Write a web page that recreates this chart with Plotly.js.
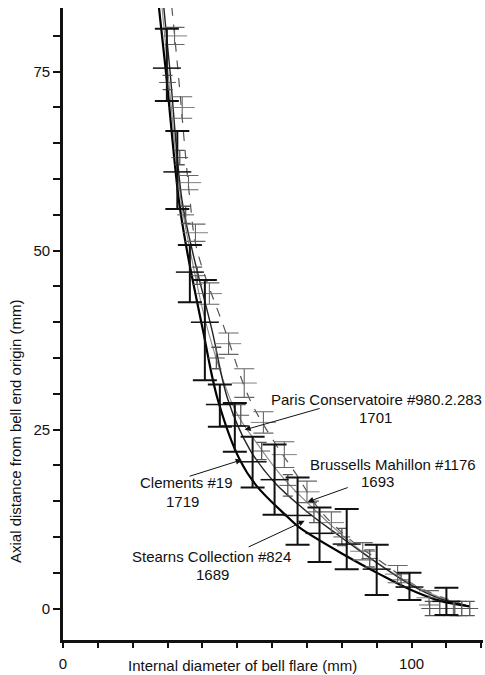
<!DOCTYPE html>
<html>
<head>
<meta charset="utf-8">
<script src="https://cdn.plot.ly/plotly-3.0.1.min.js"></script>
<style>html,body{margin:0;padding:0;background:#fff;}#chart{width:485px;height:675px;}</style>
</head>
<body>
<div id="chart"></div>
<script>
// ---- Fitted curves (diameter x, axial distance y) ----
const stearnsCurveX = [27.5, 29.5, 33.2, 35.5, 40.1, 44.4, 50.7, 55.6, 64.2, 67.9, 81.4, 90.8, 99.4, 108.0, 116.6];
const stearnsCurveY = [84.1, 75.1, 57.2, 50.2, 39.0, 29.2, 20.8, 17.1, 12.9, 11.3, 7.3, 4.8, 2.7, 1.1, 0.3];
const clementsCurveX = [28.9, 30.7, 34.1, 37.0, 42.7, 47.3, 53.6, 60.7, 69.3, 79.4, 89.4, 99.4, 108.0, 116.6];
const clementsCurveY = [84.1, 75.1, 57.2, 50.2, 39.0, 29.2, 22.2, 17.6, 13.8, 10.1, 6.6, 3.4, 1.4, 0.3];
const parisCurveX = [31.2, 33.0, 36.4, 38.4, 46.4, 53.6, 60.7, 67.0, 73.6, 82.2, 92.3, 102.3, 116.6];
const parisCurveY = [84.1, 75.1, 57.2, 50.2, 39.0, 29.2, 23.2, 18.7, 13.8, 9.7, 6.2, 2.9, 0.3];
const brussCurveX = [28.4, 30.1, 33.8, 36.4, 41.5, 49.3, 55.9, 63.6, 72.2, 81.4, 90.8, 100.9, 109.5, 116.6];
const brussCurveY = [84.1, 75.1, 57.2, 50.2, 39.0, 27.8, 22.9, 18.0, 13.8, 9.7, 6.2, 3.2, 1.3, 0.3];

// ---- Measured points with error bars ----
const stearnsX = [29.8, 36.4, 45.0, 54.4, 67.3, 81.4, 99.4];
const stearnsY = [75.5, 47.0, 28.5, 20.5, 13.0, 9.0, 3.0];
const stearnsErrUp = [5.5, 3.8, 2.8, 3.5, 5.3, 4.9, 2.0];
const stearnsErrDown = [4.6, 4.2, 3.1, 3.6, 4.1, 3.5, 1.8];

const clementsX = [32.8, 40.7, 49.3, 60.7, 73.6, 90.0, 110.0];
const clementsY = [61.0, 40.0, 25.5, 18.0, 10.5, 5.5, 1.0];
const clementsErrUp = [5.7, 5.9, 3.2, 4.9, 3.6, 3.4, 1.9];
const clementsErrDown = [5.2, 8.1, 3.6, 4.9, 4.0, 3.6, 1.9];

const parisX = [32.0, 34.2, 36.0, 38.0, 42.0, 47.5, 52.0, 57.5, 63.5, 70.0, 77.0, 86.0, 96.0, 105.0, 112.0];
const parisY = [80.0, 70.0, 59.5, 52.5, 44.0, 37.0, 31.5, 26.0, 21.5, 16.3, 12.0, 8.0, 4.8, 1.5, 0.0];
const parisErr = [1.2, 1.5, 1.0, 1.2, 1.5, 1.5, 2.0, 1.5, 1.8, 1.5, 1.5, 1.2, 1.2, 1.0, 1.0];

const brussX = [30.0, 33.5, 35.2, 38.5, 44.0, 51.0, 57.0, 64.5, 72.0, 80.0, 88.0, 97.0, 105.2, 108.1, 112.4, 114.4, 116.7];
const brussY = [73.5, 63.0, 55.0, 46.5, 35.0, 27.0, 22.0, 17.2, 13.5, 10.0, 7.0, 4.0, 0.0, 0.0, 0.0, 0.0, 0.0];
const brussErr = [1.0, 1.0, 1.2, 1.2, 1.5, 1.5, 1.2, 1.5, 1.5, 1.2, 1.2, 1.0, 1.0, 1.0, 1.0, 1.0, 1.0];

const xTickVals = [0, 10, 20, 30, 40, 50, 60, 70, 80, 90, 100, 110, 120];
const xTickText = ['0', '', '', '', '', '', '', '', '', '', '100', '', ''];
const yTickVals = [0, 5, 10, 15, 20, 25, 30, 35, 40, 45, 50, 55, 60, 65, 70, 75, 80];
const yTickText = ['0', '', '', '', '', '25', '', '', '', '', '50', '', '', '', '', '75', ''];

const FONT = 'Liberation Sans, Arial, sans-serif';

function curve(x, y, color, width, dash) {
  return {x: x, y: y, type: 'scatter', mode: 'lines', hoverinfo: 'skip',
    line: {color: color, width: width, dash: dash || 'solid', shape: 'spline', smoothing: 1.0}};
}
function pts(x, y, up, down, color, thick, capw, msize) {
  return {x: x, y: y, type: 'scatter', mode: 'markers',
    marker: {symbol: 'line-ew-open', size: msize, color: color, line: {color: color, width: thick * 0.75}},
    error_y: {type: 'data', symmetric: false, array: up, arrayminus: down, color: color, thickness: thick, width: capw}};
}

const traces = [
  curve(parisCurveX, parisCurveY, '#555', 1.2, 'dash'),
  curve(brussCurveX, brussCurveY, '#8a8a8a', 1.1),
  curve(clementsCurveX, clementsCurveY, '#222', 1.4),
  curve(stearnsCurveX, stearnsCurveY, '#000', 2.2),
  pts(parisX, parisY, parisErr, parisErr, '#666', 1.1, 10, 18),
  pts(brussX, brussY, brussErr, brussErr, '#555', 1.3, 5, 12),
  pts(clementsX, clementsY, clementsErrUp, clementsErrDown, '#111', 2, 12, 20),
  pts(stearnsX, stearnsY, stearnsErrUp, stearnsErrDown, '#111', 2, 12, 20)
];

function label(text, px, py) {
  return {text: text, x: (px - 63.3) / 3.486, y: (608.7 - py) / 7.16, xref: 'x', yref: 'y',
    showarrow: false, font: {family: FONT, size: 15, color: '#111'}, xanchor: 'center', yanchor: 'middle'};
}
function arrow(tx, ty, hx, hy) {
  return {text: ' ', x: (hx - 63.3) / 3.486, y: (608.7 - hy) / 7.16,
    ax: (tx - 63.3) / 3.486, ay: (608.7 - ty) / 7.16, axref: 'x', ayref: 'y', xref: 'x', yref: 'y',
    showarrow: true, arrowhead: 2, arrowsize: 1.2, arrowwidth: 1, arrowcolor: '#111', standoff: 0, startstandoff: 0,
    font: {size: 2}};
}

const layout = {
  width: 485, height: 675,
  margin: {l: 63, r: 2, t: 8, b: 35},
  paper_bgcolor: '#fff', plot_bgcolor: '#fff',
  showlegend: false,
  font: {family: FONT, size: 15, color: '#111'},
  xaxis: {range: [0, 120.5], tickvals: xTickVals, ticktext: xTickText, ticks: 'outside', ticklen: 5, tickwidth: 2,
    tickcolor: '#111', showline: true, linewidth: 2.8, linecolor: '#111', showgrid: false, zeroline: false,
    tickfont: {family: FONT, size: 15, color: '#111'}, ticklabelstandoff: 3, fixedrange: true},
  yaxis: {range: [-4.4, 83.9], tickvals: yTickVals, ticktext: yTickText, ticks: 'outside', ticklen: 7, tickwidth: 2,
    tickcolor: '#111', showline: true, linewidth: 2.8, linecolor: '#111', showgrid: false, zeroline: false,
    tickfont: {family: FONT, size: 15, color: '#111'}, fixedrange: true},
  annotations: [
    {text: 'Internal diameter of bell flare (mm)', xref: 'paper', yref: 'paper', x: (242 - 63) / 420, y: (640 - 665) / 632,
      showarrow: false, xanchor: 'center', yanchor: 'middle', font: {family: FONT, size: 15, color: '#111'}},
    {text: 'Axial distance from bell end origin (mm)', xref: 'paper', yref: 'paper', x: (15 - 63) / 420, y: (640 - 432) / 632,
      showarrow: false, xanchor: 'center', yanchor: 'middle', textangle: -90, font: {family: FONT, size: 15, color: '#111'}},
    label('Paris Conservatoire #980.2.283', 377, 400),
    label('1701', 376, 418),
    label('Brussells Mahillon #1176', 393, 465),
    label('1693', 378, 482),
    label('Clements #19', 187, 483),
    label('1719', 183, 502),
    label('Stearns Collection #824', 212, 557),
    label('1689', 213, 575),
    arrow(322, 408, 245, 430),
    arrow(350, 487, 308, 502),
    arrow(188, 477, 242, 460),
    arrow(247, 548, 305, 521)
  ]
};

Plotly.newPlot('chart', traces, layout, {staticPlot: true, displayModeBar: false});
</script>
</body>
</html>
